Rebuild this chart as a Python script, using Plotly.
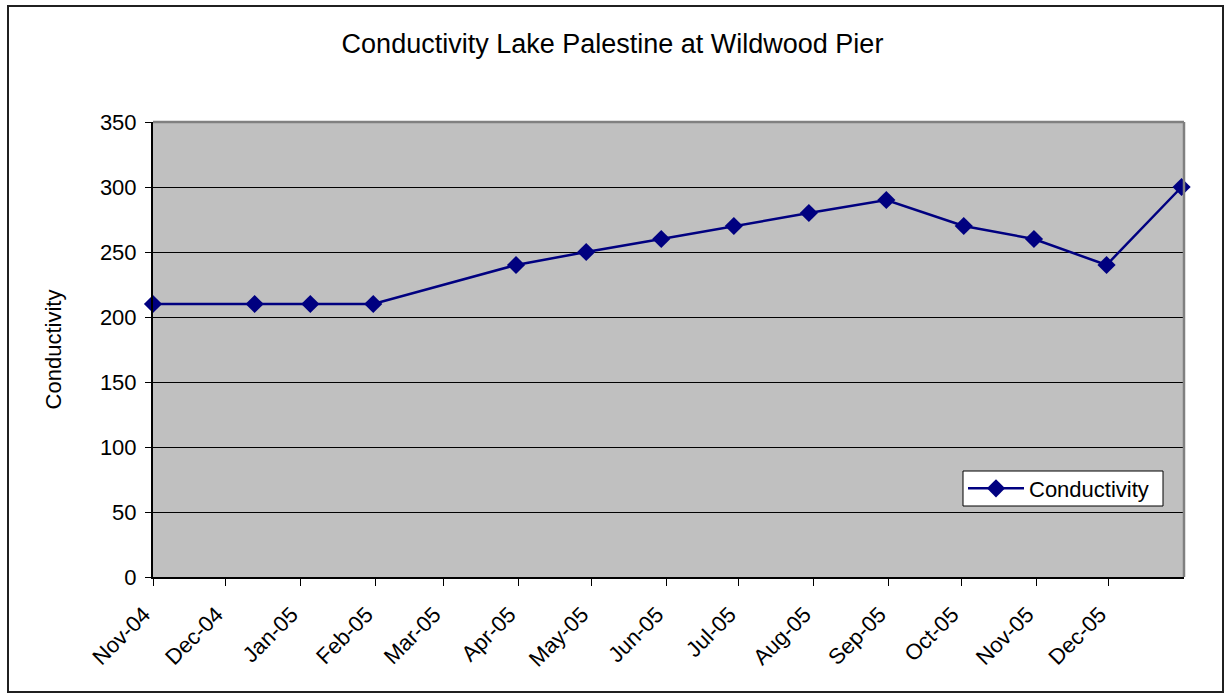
import plotly.graph_objects as go

# Data
dates = ['2004-11-01', '2004-12-13', '2005-01-05', '2005-01-31', '2005-03-31',
         '2005-04-29', '2005-05-30', '2005-06-29', '2005-07-30', '2005-08-31',
         '2005-10-02', '2005-10-31', '2005-11-30', '2005-12-31']
conductivity = [210, 210, 210, 210, 240, 250, 260, 270, 280, 290, 270, 260, 240, 300]

tick_dates = ['2004-11-01', '2004-12-01', '2005-01-01', '2005-02-01', '2005-03-01',
              '2005-04-01', '2005-05-01', '2005-06-01', '2005-07-01', '2005-08-01',
              '2005-09-01', '2005-10-01', '2005-11-01', '2005-12-01']
tick_labels = ['Nov-04', 'Dec-04', 'Jan-05', 'Feb-05', 'Mar-05', 'Apr-05', 'May-05',
               'Jun-05', 'Jul-05', 'Aug-05', 'Sep-05', 'Oct-05', 'Nov-05', 'Dec-05']
y_ticks = [0, 50, 100, 150, 200, 250, 300, 350]

FONT = "Arial, 'Liberation Sans', sans-serif"
NAVY = '#000080'

# plot-area geometry (pixels)
L, R, T, B = 153, 1184, 122, 577
PW, PH = R - L, B - T


def px(x):
    return (x - L) / PW


def py(y):
    return (B - y) / PH


fig = go.Figure()
fig.add_trace(go.Scatter(
    x=dates, y=conductivity, mode='lines+markers', name='Conductivity',
    line=dict(color=NAVY, width=2.5),
    marker=dict(symbol='diamond', size=14, color=NAVY),
    cliponaxis=False,
))

fig.update_layout(
    width=1225, height=694,
    paper_bgcolor='white', plot_bgcolor='#C0C0C0',
    margin=dict(l=L, r=1225 - R, t=T, b=694 - B, autoexpand=False),
    font=dict(family=FONT, color='black', size=20),
    title=dict(text='Conductivity Lake Palestine at Wildwood Pier',
               x=0.5, xanchor='center', y=1 - 44 / 694, yanchor='middle',
               font=dict(size=27, family=FONT, color='black')),
    showlegend=True,
    legend=dict(x=px(963), xanchor='left',
                y=py(488.5), yanchor='middle',
                bgcolor='rgba(0,0,0,0)', borderwidth=0,
                font=dict(size=22, family=FONT, color='black'),
                itemwidth=56, tracegroupgap=0),
    xaxis=dict(
        type='date', range=['2004-11-01', '2006-01-01'],
        tickmode='array', tickvals=tick_dates, ticktext=tick_labels,
        tickangle=-45, ticks='outside', ticklen=7, tickcolor='black',
        tickfont=dict(size=22, family=FONT, color='black'),
        ticklabelstandoff=7, ticklabelshift=-9,
        showgrid=False, showline=True, linecolor='black', linewidth=2,
        zeroline=False, mirror=False,
    ),
    yaxis=dict(
        range=[0, 350], tickmode='array', tickvals=y_ticks,
        ticks='outside', ticklen=6, tickcolor='black',
        tickfont=dict(size=22, family=FONT, color='black'),
        ticklabelstandoff=4,
        showgrid=True, gridcolor='black', gridwidth=1,
        showline=True, linecolor='black', linewidth=2, zeroline=False,
        title=dict(text='Conductivity', standoff=32,
                   font=dict(size=22, family=FONT, color='black')),
    ),
    shapes=[
        # plot area border (gray on top and right)
        dict(type='line', xref='paper', yref='paper', x0=0, x1=1, y0=1, y1=1,
             line=dict(color='#808080', width=2.5), layer='above'),
        dict(type='line', xref='paper', yref='paper', x0=1, x1=1, y0=0, y1=1,
             line=dict(color='#808080', width=2.5), layer='above'),
        # legend box
        dict(type='rect', xref='paper', yref='paper',
             x0=px(963), x1=px(1163), y0=py(506), y1=py(471),
             fillcolor='white', line=dict(color='black', width=1), layer='above'),
        # outer chart border
        dict(type='rect', xref='paper', yref='paper',
             x0=px(8), x1=px(1223), y0=py(692), y1=py(6),
             line=dict(color='#202020', width=2), layer='above'),
    ],
)

fig.write_html('out.html', config={'displayModeBar': False},
               post_script="document.body.style.margin='0';")
